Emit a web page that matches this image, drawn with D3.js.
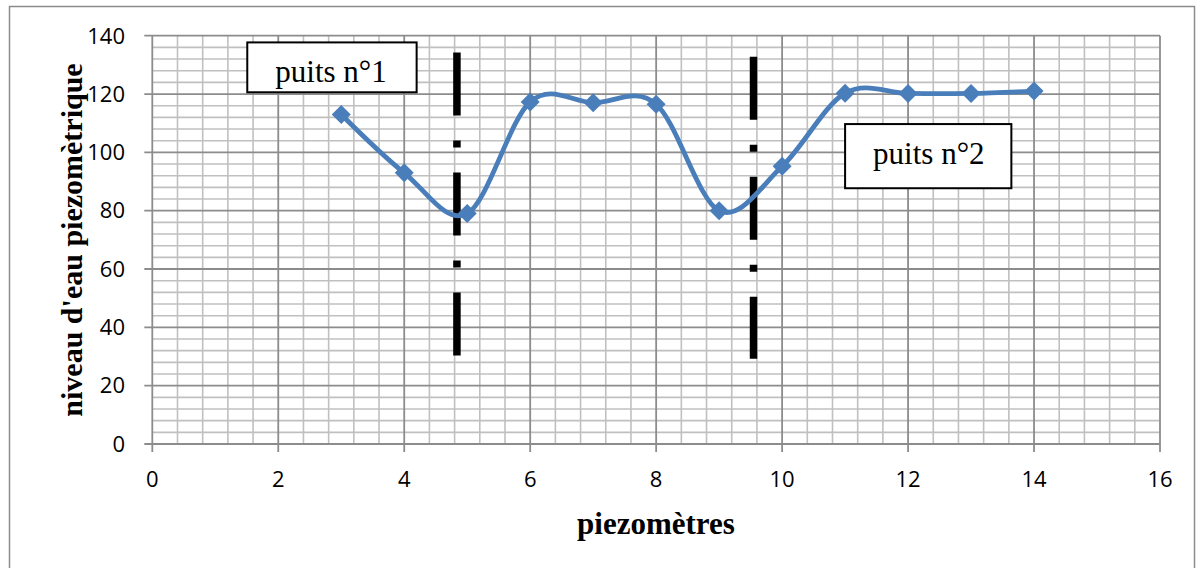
<!DOCTYPE html>
<html>
<head>
<meta charset="utf-8">
<script src="https://cdn.jsdelivr.net/npm/d3@7"></script>
<style>
    body { margin: 0; background: #fff; }
    svg { display: block; }
</style>
</head>
<body>
<div id="chart"></div>
<script>

// Piezometer readings
const piezometers = [3, 4, 5, 6, 7, 8, 9, 10, 11, 12, 13, 14];
const levels = [113, 93, 79, 117.3, 117, 116.5, 80, 95.2, 120.3, 120.2, 120.2, 121];

// Axis ticks
const xTicks = [0, 2, 4, 6, 8, 10, 12, 14, 16];
const yTicks = [0, 20, 40, 60, 80, 100, 120, 140];

// Wells: position on x axis and vertical extent of the dash-dot marker line
const wellNames = ["puits n°1", "puits n°2"];
const wellX = [4.837, 9.546];
const wellTop = [134.2, 132.8];
const wellBottom = [30.3, 29.2];

// Label boxes in data units [x0, x1, yTop, yBottom]
const labelBoxes = [[1.508, 4.197, 137.7, 120.6], [11.0, 13.64, 109.7, 87.7]];

const width = 1199;
const height = 568;

const svg = d3.select("#chart").append("svg")
    .attr("width", width)
    .attr("height", height);

// Chart area border
svg.append("rect")
    .attr("x", 9.5).attr("y", 6.5)
    .attr("width", 1185).attr("height", 600)
    .attr("fill", "none")
    .attr("stroke", "#8c8c8c")
    .attr("stroke-width", 1.5);

const x = d3.scaleLinear().domain([0, 16]).range([152.3, 1160]);
const y = d3.scaleLinear().domain([0, 140]).range([444, 35.7]);

// Minor grid
const minorX = d3.range(0, 16.01, 0.4).filter((v) => Math.abs(v / 2 - Math.round(v / 2)) > 0.01);
const minorY = d3.range(0, 140.1, 4).filter((v) => v % 20 !== 0);

const grid = svg.append("g");

grid.selectAll(".minor-x")
    .data(minorX)
    .enter().append("line")
    .attr("x1", (d) => x(d)).attr("x2", (d) => x(d))
    .attr("y1", y(0)).attr("y2", y(140))
    .attr("stroke", "#c0c0c0")
    .attr("stroke-width", 1.6);

grid.selectAll(".minor-y")
    .data(minorY)
    .enter().append("line")
    .attr("x1", x(0)).attr("x2", x(16))
    .attr("y1", (d) => y(d)).attr("y2", (d) => y(d))
    .attr("stroke", "#c0c0c0")
    .attr("stroke-width", 1.6);

// Major grid (includes the tick marks outside the plot)
grid.selectAll(".major-x")
    .data(xTicks)
    .enter().append("line")
    .attr("x1", (d) => x(d)).attr("x2", (d) => x(d))
    .attr("y1", y(0) + 8).attr("y2", y(140))
    .attr("stroke", "#8c8c8c")
    .attr("stroke-width", 1.8);

grid.selectAll(".major-y")
    .data(yTicks)
    .enter().append("line")
    .attr("x1", x(0) - 8).attr("x2", x(16))
    .attr("y1", (d) => y(d)).attr("y2", (d) => y(d))
    .attr("stroke", "#8c8c8c")
    .attr("stroke-width", 1.8);

// Tick labels
svg.append("g").selectAll("text")
    .data(xTicks)
    .enter().append("text")
    .attr("x", (d) => x(d))
    .attr("y", 487)
    .attr("text-anchor", "middle")
    .style("font-family", "'Open Sans', sans-serif")
    .style("font-size", "22px")
    .text((d) => d);

svg.append("g").selectAll("text")
    .data(yTicks)
    .enter().append("text")
    .attr("x", 125)
    .attr("y", (d) => y(d) + 7.8)
    .attr("text-anchor", "end")
    .style("font-family", "'Open Sans', sans-serif")
    .style("font-size", "22px")
    .text((d) => d);

// Axis titles
svg.append("text")
    .attr("x", 656)
    .attr("y", 534)
    .attr("text-anchor", "middle")
    .style("font-family", "'Liberation Serif', 'Times New Roman', serif")
    .style("font-weight", "bold")
    .style("font-size", "31px")
    .text("piezomètres");

svg.append("text")
    .attr("transform", "translate(82,240) rotate(-90)")
    .attr("text-anchor", "middle")
    .style("font-family", "'Liberation Serif', 'Times New Roman', serif")
    .style("font-weight", "bold")
    .style("font-size", "30px")
    .text("niveau d'eau piezomètrique");

// Label boxes
const boxes = svg.append("g").selectAll("g")
    .data(labelBoxes)
    .enter().append("g");

boxes.append("rect")
    .attr("x", (d) => x(d[0]))
    .attr("y", (d) => y(d[2]))
    .attr("width", (d) => x(d[1]) - x(d[0]))
    .attr("height", (d) => y(d[3]) - y(d[2]))
    .attr("fill", "#fff")
    .attr("stroke", "#000")
    .attr("stroke-width", 2);

boxes.append("text")
    .attr("x", (d) => x(d[0]) + 28)
    .attr("y", (d, i) => i === 0 ? y(d[3]) - 10.5 : y(d[3]) - 24)
    .style("font-family", "'Liberation Serif', 'Times New Roman', serif")
    .style("font-size", "31px")
    .text((d, i) => wellNames[i]);

// Dash-dot well lines
svg.append("g").selectAll("line")
    .data(wellX)
    .enter().append("line")
    .attr("x1", (d) => x(d)).attr("x2", (d) => x(d))
    .attr("y1", (d, i) => y(wellTop[i]))
    .attr("y2", (d, i) => y(wellBottom[i]))
    .attr("stroke", "#000")
    .attr("stroke-width", 7.5)
    .attr("stroke-dasharray", "63,25,7,25");

// Smoothed series
const points = piezometers.map((p, i) => [p, levels[i]]);

const line = d3.line()
    .x((d) => x(d[0]))
    .y((d) => y(d[1]))
    .curve(d3.curveCatmullRom.alpha(0));

svg.append("path")
    .datum(points)
    .attr("d", line)
    .attr("fill", "none")
    .attr("stroke", "#4a7ebb")
    .attr("stroke-width", 4.8);

const diamond = d3.symbol().type(d3.symbolDiamond2).size(230);

svg.append("g").selectAll("path")
    .data(points)
    .enter().append("path")
    .attr("transform", (d) => "translate(" + x(d[0]) + "," + y(d[1]) + ")")
    .attr("d", diamond)
    .attr("fill", "#4a7ebb");

</script>
</body>
</html>
